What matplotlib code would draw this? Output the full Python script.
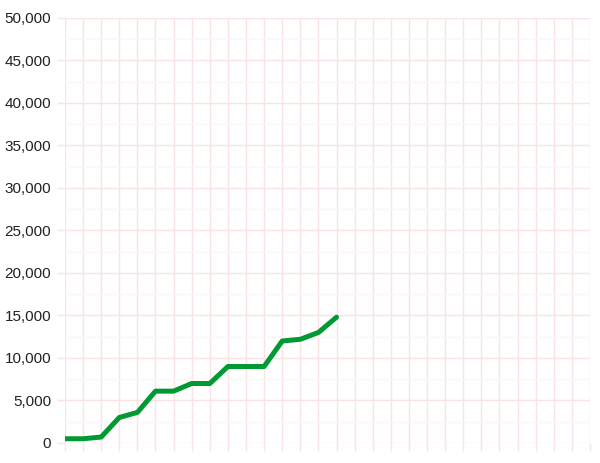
import numpy as np
import matplotlib.pyplot as plt
from matplotlib.ticker import FuncFormatter, MultipleLocator

plt.rcParams["font.family"] = ["Liberation Sans", "DejaVu Sans"]

# data (30 x slots, 16 filled)
N_SLOTS = 30
values = [500, 500, 700, 3000, 3600, 6100, 6100, 7000, 7000,
          9000, 9000, 9000, 12000, 12200, 13000, 14800]
x = np.arange(len(values))

GRID = "#fce3e3"
GRID_MINOR = "#fdf6f6"
LINE = "#009933"

fig = plt.figure(figsize=(6, 4.63), dpi=100)
ax = fig.add_axes([0.1083, 0.0432, 0.875, 0.918])

ax.plot(x, values, color=LINE, linewidth=3.6, solid_capstyle="round",
        solid_joinstyle="round", zorder=3)

ax.set_xlim(0, N_SLOTS - 1)
ax.set_ylim(0, 50000)
ax.set_xticks(np.arange(N_SLOTS))
ax.set_xticklabels([])
ax.yaxis.set_major_locator(MultipleLocator(5000))
ax.yaxis.set_minor_locator(MultipleLocator(2500))
ax.yaxis.set_major_formatter(FuncFormatter(lambda v, _: f"{int(v):,}"))

ax.grid(True, which="major", axis="both", color=GRID, linewidth=1.0,
        snap=True)
ax.grid(True, which="minor", axis="y", color=GRID_MINOR, linewidth=1.0,
        snap=True)
ax.set_axisbelow(True)

for s in ax.spines.values():
    s.set_visible(False)

ax.tick_params(axis="x", which="major", length=6, color=GRID, width=1.0)
ax.tick_params(axis="y", which="major", length=6, color=GRID, width=1.0,
               labelsize=11, labelcolor="#222222", pad=4)
ax.tick_params(axis="y", which="minor", length=0)

plt.savefig("out.png", dpi=100)
